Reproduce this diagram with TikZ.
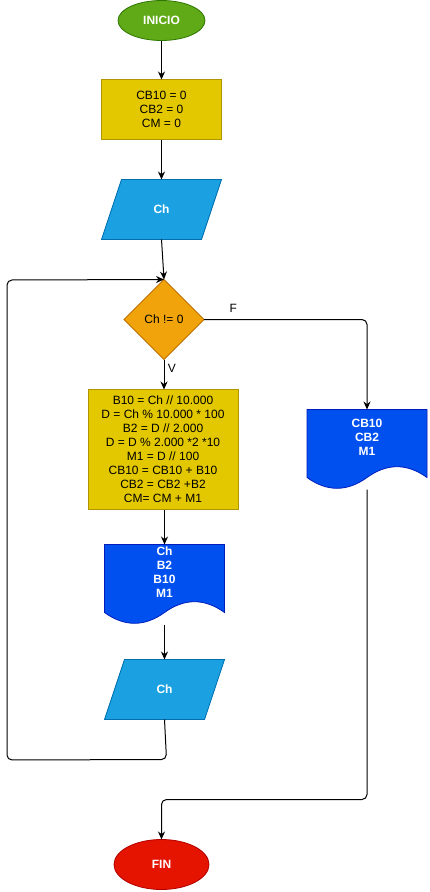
\documentclass[tikz,border=0pt]{standalone}
\usepackage{fontspec}
\setmainfont{Liberation Sans}
\usetikzlibrary{shapes.geometric, arrows.meta}
\usetikzlibrary{positioning,backgrounds}

\definecolor{inicioFill}{HTML}{60A917}
\definecolor{inicioLine}{HTML}{2D7600}
\definecolor{procFill}{HTML}{E3C800}
\definecolor{procLine}{HTML}{B09500}
\definecolor{ioFill}{HTML}{1BA1E2}
\definecolor{ioLine}{HTML}{006EAF}
\definecolor{decFill}{HTML}{F0A30A}
\definecolor{decLine}{HTML}{BD7000}
\definecolor{docFill}{HTML}{0050EF}
\definecolor{docLine}{HTML}{001DBC}
\definecolor{finFill}{HTML}{E51400}
\definecolor{finLine}{HTML}{B20000}

\begin{document}
\begin{tikzpicture}[node distance=40pt, x=1pt, y=1pt, font=\fontsize{12}{14}\selectfont]
	%defines
	\tikzstyle{startstop} = [ellipse, minimum width=87pt, minimum height=40pt, inner sep=0pt, outer sep=0pt, text=white, font=\fontsize{12}{14}\selectfont\bfseries, line width=0.8pt]
	\tikzstyle{process} = [rectangle, minimum width=120pt, minimum height=60pt, inner sep=0pt, outer sep=0pt, align=center, draw=procLine, fill=procFill, line width=0.8pt]
	\tikzstyle{io} = [rectangle, minimum width=100pt, minimum height=60pt, inner sep=0pt, outer sep=0pt, text=white, font=\fontsize{12}{14}\selectfont\bfseries]
	\tikzstyle{ioshape} = [draw=ioLine, fill=ioFill, line width=0.8pt]
	\tikzstyle{decision} = [diamond, aspect=1, minimum width=80pt, minimum height=80pt, inner sep=0pt, outer sep=0pt, draw=decLine, fill=decFill, line width=0.8pt]
	\tikzstyle{docnode} = [rectangle, minimum width=120pt, minimum height=80pt, inner sep=0pt, outer sep=0pt]
	\tikzstyle{doctext} = [align=center, text=white, font=\fontsize{12}{14}\selectfont\bfseries, yshift=12pt]
	\tikzstyle{docshape} = [draw=docLine, fill=docFill, line width=0.8pt]
	\tikzstyle{arrow} = [line width=1pt, -{Stealth[length=8pt, width=7pt]}]
	\useasboundingbox (0,0) rectangle (429,-892);
	%chart
	\node (inicio) [startstop, draw=inicioLine, fill=inicioFill] at (161.5,-20.5) {INICIO};
	\node (init) [process, below=39pt of inicio] {CB10 = 0\\CB2 = 0\\CM = 0};
	\node (ch1) [io, below=40pt of init] {Ch};
	\node (cond) [decision, below=40pt of ch1, xshift=2.5pt] {Ch != 0};
	\node (calc) [process, minimum width=150pt, minimum height=120pt, below=30pt of cond, xshift=-1pt] {B10 = Ch // 10.000\\D = Ch \% 10.000 * 100\\B2 = D // 2.000\\D = D \% 2.000 *2 *10\\M1 = D // 100\\CB10 = CB10 + B10\\CB2 = CB2 +B2\\CM= CM + M1};
	\node (out1) [docnode, below=35pt of calc, xshift=1.5pt, label={[doctext]center:{Ch\\B2\\B10\\M1}}] {};
	\node (ch2) [io, below=35pt of out1] {Ch};
	\node (out2) [docnode, right=69pt of calc, label={[doctext]center:{CB10\\CB2\\M1}}] {};
	\node (fin) [startstop, minimum width=95pt, minimum height=50pt, draw=finLine, fill=finFill, below=120pt of ch2, xshift=-3pt] {FIN};
	\coordinate (loopbottom) at (7,-760);
	\coordinate (looptop) at (7,-280);
	%input and document shapes
	\begin{scope}[on background layer]
		\foreach \io in {ch1,ch2}
			\filldraw [ioshape] ([xshift=-10]\io.south west) -- ([xshift=-10]\io.south east) -- ([xshift=10]\io.north east) -- ([xshift=10]\io.north west) -- cycle;
		\foreach \doc in {out1,out2}
			\filldraw [docshape] (\doc.north west) -- (\doc.north east) -- ([yshift=12pt]\doc.south east)
				.. controls ([shift={(-20,26.4)}]\doc.south east) and ([shift={(-40,26.4)}]\doc.south east) .. ([yshift=12pt]\doc.south)
				.. controls ([shift={(40,-2.4)}]\doc.south west) and ([shift={(20,-2.4)}]\doc.south west) .. ([yshift=12pt]\doc.south west) -- cycle;
	\end{scope}
	%links
	\draw [arrow] (inicio) -- (init);
	\draw [arrow] (init) -- (ch1);
	\draw [arrow] (ch1.south) -- (cond.north);
	\draw [arrow] (cond.south) -- node[right, pos=0.3] {V} (cond.south |- calc.north);
	\draw [arrow] (calc.south -| out1.north) -- (out1.north);
	\draw [arrow] (out1.south) -- (ch2.north);
	\draw [arrow, rounded corners=5pt] (ch2.south) -- ++(2,-40) -- (loopbottom) -- (looptop) -- (cond.north);
	\draw [arrow, rounded corners=5pt] (cond.east) -| node[pos=0.09, above, yshift=3.5pt] {F} (out2.north);
	\draw [arrow, rounded corners=5pt] (out2.south) |- ([yshift=40pt]fin.north) -- (fin.north);
\end{tikzpicture}
\end{document}
